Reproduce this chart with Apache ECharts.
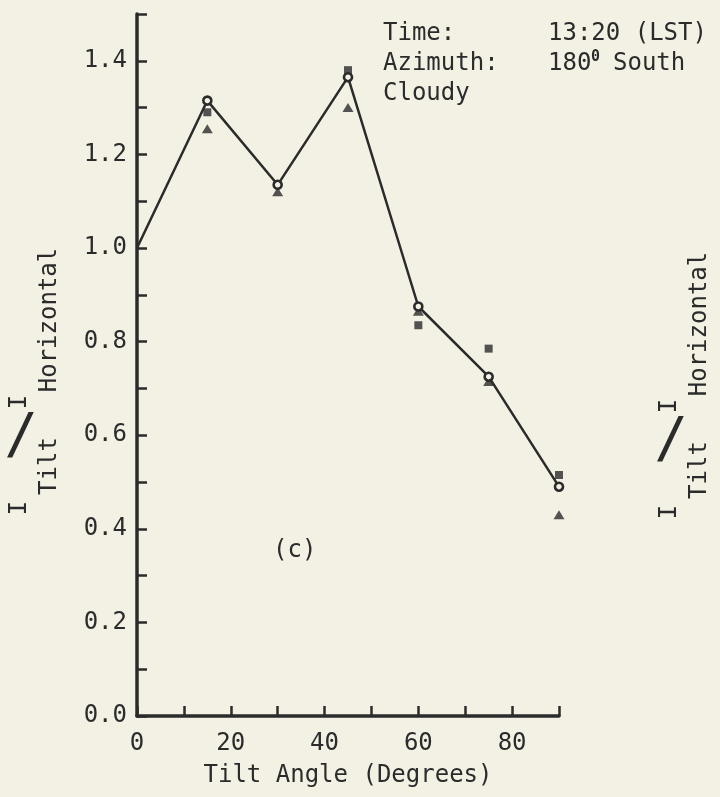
<!DOCTYPE html>
<html>
<head>
<meta charset="utf-8">
<script src="https://cdn.jsdelivr.net/npm/echarts@6/dist/echarts.min.js"></script>
<style>
  html, body { margin: 0; padding: 0; background: #f3f1e3; }
  #chart { width: 720px; height: 797px; }
</style>
</head>
<body>
<div id="chart"></div>
<script>
// tilt angle (deg) vs I_tilt / I_horizontal, cloudy, 13:20 LST
const tiltAngles = [0, 15, 30, 45, 60, 75, 90];
const circleRatio = [1.0, 1.315, 1.135, 1.365, 0.875, 0.725, 0.49];
const squareAngles = [15, 45, 60, 75, 90];
const squareRatio = [1.29, 1.38, 0.835, 0.785, 0.515];
const triangleAngles = [15, 30, 45, 60, 75, 90];
const triangleRatio = [1.255, 1.12, 1.30, 0.865, 0.715, 0.43];
const xTickLabels = [0, 20, 40, 60, 80];
const yTickLabels = [0, 0.2, 0.4, 0.6, 0.8, 1.0, 1.2, 1.4];

const INK = '#2b2b2b';
const BG = '#f3f1e3';
const FONT = '"DejaVu Sans Mono", monospace';

const chart = echarts.init(document.getElementById('chart'));

function hasTick(list, v) {
  return list.some((t) => Math.abs(t - v) < 1e-6);
}

function txt(x, y, text, size, extra) {
  return Object.assign({
    type: 'text',
    x: x,
    y: y,
    silent: true,
    style: {
      text: text,
      fontSize: size,
      fontFamily: FONT,
      fill: INK,
      align: 'left',
      verticalAlign: 'middle'
    }
  }, extra || {});
}

// I_Tilt / I_Horizontal, written sideways
function ratioLabel(dx, dy) {
  const rot = { rotation: Math.PI / 2 };
  const parts = [
    txt(50 + dx, 320 + dy, 'Horizontal', 24, rot),
    txt(20 + dx, 402 + dy, 'I', 24, rot),
    txt(50 + dx, 466 + dy, 'Tilt', 24, rot),
    txt(20 + dx, 508 + dy, 'I', 24, rot),
    txt(21 + dx, 437 + dy, '/', 56)
  ];
  parts.forEach((p) => { p.style.align = 'center'; });
  return parts;
}

const option = {
  backgroundColor: BG,
  animation: false,
  grid: { left: 137, right: 161, top: 14, bottom: 81 },
  xAxis: {
    type: 'value',
    min: 0,
    max: 90,
    interval: 10,
    name: 'Tilt Angle (Degrees)',
    nameLocation: 'middle',
    nameGap: 48,
    nameTextStyle: { color: INK, fontSize: 24, fontFamily: FONT },
    axisLine: { lineStyle: { color: INK, width: 3.5 } },
    axisTick: { inside: true, length: 10, lineStyle: { color: INK, width: 2.5 } },
    axisLabel: {
      color: INK,
      fontSize: 24,
      fontFamily: FONT,
      margin: 16,
      formatter: (v) => (hasTick(xTickLabels, v) ? String(v) : '')
    },
    splitLine: { show: false }
  },
  yAxis: {
    type: 'value',
    min: 0,
    max: 1.5,
    interval: 0.1,
    axisLine: { show: true, lineStyle: { color: INK, width: 3.5 } },
    axisTick: { show: true, inside: true, length: 10, lineStyle: { color: INK, width: 2.5 } },
    axisLabel: {
      color: INK,
      fontSize: 24,
      fontFamily: FONT,
      margin: 10,
      formatter: (v) => (hasTick(yTickLabels, v) ? v.toFixed(1) : '')
    },
    splitLine: { show: false }
  },
  series: [
    {
      name: 'squares',
      type: 'scatter',
      symbol: 'rect',
      symbolSize: 8,
      z: 2,
      itemStyle: { color: INK },
      data: squareAngles.map((a, i) => [a, squareRatio[i]])
    },
    {
      name: 'triangles',
      type: 'scatter',
      symbol: 'triangle',
      symbolSize: [11, 9],
      z: 2,
      itemStyle: { color: INK },
      data: triangleAngles.map((a, i) => [a, triangleRatio[i]])
    },
    {
      name: 'circles',
      type: 'line',
      symbol: 'circle',
      symbolSize: 8,
      showAllSymbol: true,
      z: 3,
      lineStyle: { color: INK, width: 2.5 },
      itemStyle: { color: BG, borderColor: INK, borderWidth: 2.6 },
      data: tiltAngles.map((a, i) => (i === 0
        ? { value: [a, circleRatio[i]], symbol: 'none' }
        : [a, circleRatio[i]]))
    }
  ],
  graphic: [
    txt(383, 34, 'Time:', 24),
    txt(548, 34, '13:20 (LST)', 24),
    txt(383, 64, 'Azimuth:', 24),
    txt(548, 64, '180', 24),
    txt(591, 57, '0', 15, { style: { text: '0', fontSize: 15, fontWeight: 'bold', fontFamily: FONT, fill: INK, align: 'left', verticalAlign: 'middle' } }),
    txt(613, 64, 'South', 24),
    txt(383, 94, 'Cloudy', 24),
    txt(273, 551, '(c)', 24)
  ].concat(ratioLabel(0, 0), ratioLabel(650, 4))
};

chart.setOption(option);
</script>
</body>
</html>
